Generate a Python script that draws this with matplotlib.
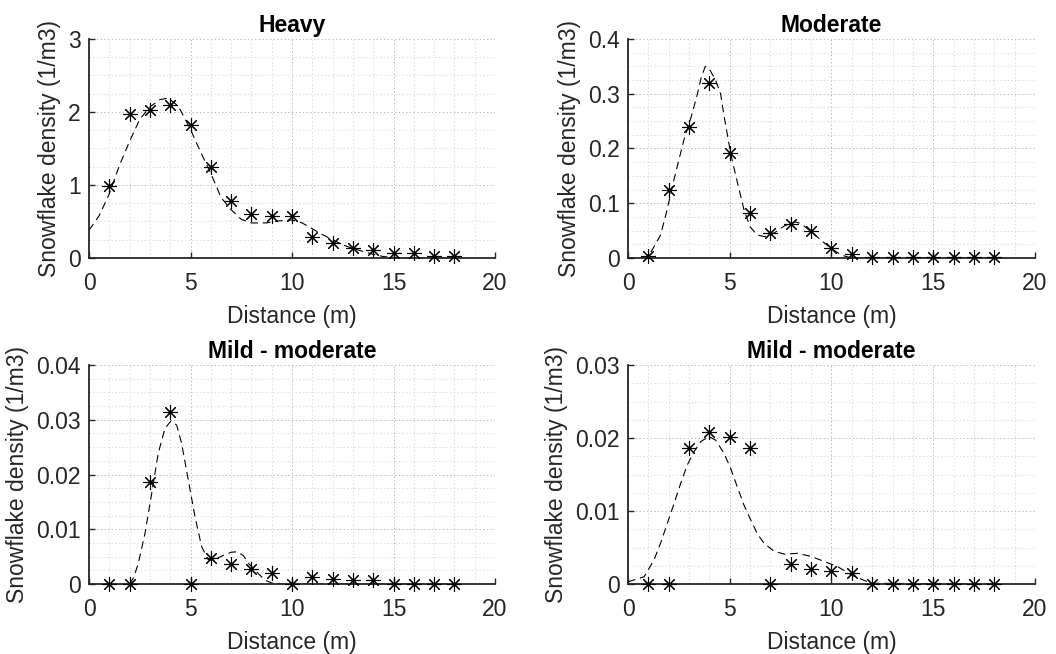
import numpy as np
import matplotlib
matplotlib.use("Agg")
from matplotlib import pyplot as plt
from matplotlib.ticker import MultipleLocator

plt.rcParams["font.family"] = ["Liberation Sans", "DejaVu Sans"]
plt.rcParams["lines.scale_dashes"] = False

# Measured densities at each distance step
distance = list(range(1, 19))
heavy = [0.98, 1.97, 2.03, 2.10, 1.82, 1.25, 0.78, 0.60, 0.575, 0.57,
         0.29, 0.21, 0.14, 0.11, 0.065, 0.07, 0.03, 0.03]
moderate = [0.003, 0.124, 0.240, 0.319, 0.191, 0.082, 0.045, 0.063, 0.050,
            0.018, 0.008, 0.002, 0.001, 0.001, 0.001, 0.001, 0.001, 0.001]
mild_a = [0.0, 0.0, 0.0187, 0.0314, 0.0, 0.0047, 0.0036, 0.0027, 0.0021,
          0.0, 0.0012, 0.0009, 0.0008, 0.0008, 0.0, 0.0, 0.0, 0.0]
mild_b = [0.0, 0.0, 0.0186, 0.0208, 0.0201, 0.0186, 0.0, 0.0027, 0.0021,
          0.0018, 0.0015, 0.0, 0.0, 0.0, 0.0, 0.0, 0.0, 0.0]

# Fitted curves (sampled)
heavy_fit_x = [0, 0.5, 1, 1.5, 2, 2.5, 3, 3.5, 3.9, 4.4, 5, 5.5, 6, 6.5, 7,
               7.5, 8, 8.7, 9.4, 10, 10.5, 11, 11.5, 12, 12.5, 13, 13.5, 14,
               14.5, 15, 16, 17, 18]
heavy_fit_y = [0.38, 0.58, 0.88, 1.27, 1.60, 1.90, 2.07, 2.17, 2.19, 2.08,
               1.76, 1.45, 1.16, 0.83, 0.66, 0.53, 0.48, 0.48, 0.51, 0.52,
               0.48, 0.40, 0.32, 0.25, 0.18, 0.13, 0.09, 0.05, 0.02, 0.005,
               0.0, 0.0, 0.0]
moderate_fit_x = [0, 0.5, 0.9, 1.1, 1.6, 1.9, 2.25, 2.75, 3.1, 3.4, 3.6, 3.8,
                  4.0, 4.3, 4.55, 4.7, 5.05, 5.35, 5.7, 6.0, 6.35, 6.7, 7.2,
                  7.7, 8.2, 8.5, 9.1, 9.5, 10, 10.5, 11, 12, 14, 16, 18]
moderate_fit_y = [0, 0, 0.002, 0.009, 0.042, 0.085, 0.142, 0.216, 0.257,
                  0.298, 0.33, 0.35, 0.345, 0.325, 0.30, 0.264, 0.19, 0.142,
                  0.088, 0.057, 0.042, 0.039, 0.046, 0.059, 0.066, 0.063,
                  0.045, 0.032, 0.017, 0.005, 0, 0, 0, 0, 0]
mild_a_fit_x = [2, 2.2, 2.43, 2.76, 3.09, 3.41, 3.74, 4.04, 4.32, 4.56, 4.89,
                5.22, 5.55, 5.88, 6.2, 6.6, 7.0, 7.3, 7.6, 7.85, 8.2, 8.67,
                9.0, 9.5, 18]
mild_a_fit_y = [0, 0.0012, 0.0038, 0.0093, 0.0166, 0.0239, 0.0284, 0.0298,
                0.029, 0.0257, 0.019, 0.0123, 0.0068, 0.0044, 0.0045, 0.0052,
                0.0058, 0.0059, 0.0052, 0.0038, 0.0024, 0.0007, 0.0002, 0, 0]
mild_b_fit_x = [0, 0.79, 1.28, 1.6, 1.93, 2.26, 2.59, 2.91, 3.24, 3.57, 3.98,
                4.31, 4.72, 5.05, 5.37, 5.7, 6.03, 6.35, 6.68, 7.17, 7.67,
                8.32, 8.98, 9.63, 10.29, 11, 11.6, 12, 18]
mild_b_fit_y = [0.0003, 0.001, 0.0033, 0.0056, 0.0083, 0.011, 0.0138, 0.0163,
                0.0181, 0.0195, 0.0202, 0.0197, 0.0179, 0.0158, 0.0133,
                0.0108, 0.0088, 0.0069, 0.0056, 0.0045, 0.0041, 0.0042,
                0.0038, 0.0031, 0.0024, 0.0012, 0.0005, 0.0001, 0]

panels = [
    ("Heavy", heavy, heavy_fit_x, heavy_fit_y, 3, 1),
    ("Moderate", moderate, moderate_fit_x, moderate_fit_y, 0.4, 0.1),
    ("Mild - moderate", mild_a, mild_a_fit_x, mild_a_fit_y, 0.04, 0.01),
    ("Mild - moderate", mild_b, mild_b_fit_x, mild_b_fit_y, 0.03, 0.01),
]

positions = [
    [0.0843, 0.6055, 0.3845, 0.3349],
    [0.5947, 0.6055, 0.3854, 0.3349],
    [0.0843, 0.1070, 0.3845, 0.3349],
    [0.5947, 0.1070, 0.3854, 0.3349],
]

dark = "#262626"
fs = 16.5
fig = plt.figure(figsize=(10.56, 6.54), dpi=100)

for pos, (title, pts, fx, fy, ymax, ystep) in zip(positions, panels):
    ax = fig.add_axes(pos)
    ax.plot(fx, fy, color="black", lw=0.8, linestyle=(0, (5.5, 3.5)), zorder=2)
    ax.plot(distance, pts, linestyle="none", marker=(8, 2, 0), ms=10.5,
            mew=0.8, color="black", clip_on=False, zorder=3)

    ax.set_xlim(0, 20)
    ax.set_ylim(0, ymax)
    ax.xaxis.set_major_locator(MultipleLocator(5))
    ax.xaxis.set_minor_locator(MultipleLocator(1))
    ax.yaxis.set_major_locator(MultipleLocator(ystep))
    ax.yaxis.set_minor_locator(MultipleLocator(ystep / 4))
    ax.yaxis.set_major_formatter(plt.FuncFormatter(lambda v, p: f"{v:g}"))

    ax.grid(which="major", linestyle=":", color="#b8b8b8", lw=0.7)
    ax.grid(which="minor", linestyle=":", color="#d4d4d4", lw=0.6)
    ax.set_axisbelow(True)

    for side in ("top", "right"):
        ax.spines[side].set_visible(False)
    for side in ("left", "bottom"):
        ax.spines[side].set_color(dark)
        ax.spines[side].set_linewidth(1.3)

    ax.tick_params(which="major", direction="in", length=4, width=1,
                   colors=dark, labelsize=fs)
    ax.tick_params(axis="x", which="major", pad=10)
    ax.tick_params(axis="y", which="major", pad=6)
    ax.tick_params(which="minor", length=0)

    ax.set_title(title, fontsize=fs, fontweight="bold", pad=5)
    ax.set_xlabel("Distance (m)", fontsize=fs, color=dark, labelpad=7)
    ax.set_ylabel("Snowflake density (1/m3)", fontsize=fs, color=dark,
                  labelpad=5)

fig.savefig("out.png", dpi=100)
